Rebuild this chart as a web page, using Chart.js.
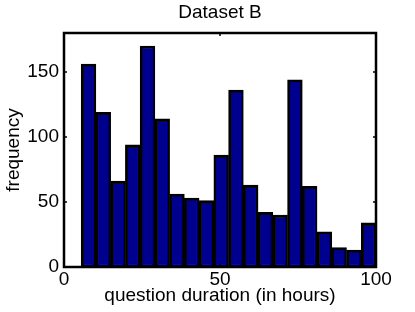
<!DOCTYPE html>
<html>
<head>
<meta charset="utf-8">
<script src="https://cdn.jsdelivr.net/npm/chart.js@4/dist/chart.umd.min.js"></script>
<style>
  html, body { margin: 0; padding: 0; background: #fff; }
  #wrap { width: 415px; height: 312px; }
</style>
</head>
<body>
<div id="wrap"><canvas id="myChart" width="415" height="312"></canvas></div>
<script>
'use strict'

// histogram bins (hours): first edge and bin width, counts per bin
let binStart = 5.5;
let binWidth = 4.725;
let counts = [156, 119, 66, 94, 170, 114, 56, 53, 51, 86, 136, 63, 42, 40, 144, 62, 27, 15, 13, 34];
let xTicks = [0, 50, 100];
let yTicks = [0, 50, 100, 150];
let chartTitle = 'Dataset B';

let points = [];
for (let i = 0; i < counts.length; i++) {
    points.push({ x: binStart + binWidth * (i + 0.5), y: counts[i] });
}

let fontFam = '"Liberation Sans", Arial, Helvetica, sans-serif';
let fontSize = 19;

// box around the plot + small inward ticks on all four sides, like matlab
let boxPlugin = {
    id: 'boxPlugin',
    afterDatasetsDraw(chart) {
        let ctx = chart.ctx;
        let a = chart.chartArea;
        let xs = chart.scales.x;
        let ys = chart.scales.y;
        ctx.save();
        ctx.strokeStyle = '#000';
        ctx.lineWidth = 1.5;
        xTicks.forEach(function (v) {
            let px = xs.getPixelForValue(v);
            ctx.beginPath();
            ctx.moveTo(px, a.bottom); ctx.lineTo(px, a.bottom - 3);
            ctx.moveTo(px, a.top); ctx.lineTo(px, a.top + 3);
            ctx.stroke();
        });
        yTicks.forEach(function (v) {
            let py = ys.getPixelForValue(v);
            ctx.beginPath();
            ctx.moveTo(a.left, py); ctx.lineTo(a.left + 3, py);
            ctx.moveTo(a.right, py); ctx.lineTo(a.right - 3, py);
            ctx.stroke();
        });
        ctx.lineWidth = 2.5;
        ctx.strokeRect(a.left, a.top, a.right - a.left, a.bottom - a.top);
        // title centred over the plot box
        ctx.fillStyle = '#000';
        ctx.font = fontSize + 'px ' + fontFam;
        ctx.textAlign = 'center';
        ctx.textBaseline = 'middle';
        ctx.fillText(chartTitle, (a.left + a.right) / 2, 13);
        ctx.restore();
    }
};

let ctx = document.getElementById('myChart').getContext('2d');
let myChart = new Chart(ctx, {
    type: 'bar',
    data: {
        datasets: [{
            data: points,
            backgroundColor: '#00008f',
            borderColor: '#000',
            borderWidth: 2.5,
            borderSkipped: false,
            barPercentage: 1,
            categoryPercentage: 1
        }]
    },
    options: {
        responsive: false,
        animation: false,
        layout: { padding: { left: 0, right: 39, top: 33, bottom: 0 } },
        plugins: {
            legend: { display: false },
            tooltip: { enabled: false },
            title: { display: false }
        },
        scales: {
            x: {
                type: 'linear',
                min: 0,
                max: 100,
                offset: false,
                afterBuildTicks: function (s) { s.ticks = xTicks.map(v => ({ value: v })); },
                afterFit: function (s) { s.height = 45; },
                grid: { display: false, drawTicks: false, offset: false },
                border: { display: false },
                ticks: {
                    color: '#000',
                    padding: 1,
                    maxRotation: 0,
                    font: { family: fontFam, size: fontSize }
                },
                title: {
                    display: true,
                    text: 'question duration (in hours)',
                    color: '#000',
                    padding: { top: 0, bottom: 5 },
                    font: { family: fontFam, size: fontSize }
                }
            },
            y: {
                min: 0,
                max: 180,
                afterBuildTicks: function (s) { s.ticks = yTicks.map(v => ({ value: v })); },
                afterFit: function (s) { s.width = 64; },
                grid: { display: false, drawTicks: false },
                border: { display: false },
                ticks: {
                    color: '#000',
                    padding: 5,
                    font: { family: fontFam, size: fontSize }
                },
                title: {
                    display: true,
                    text: 'frequency',
                    color: '#000',
                    padding: { top: 2, bottom: 0 },
                    font: { family: fontFam, size: fontSize }
                }
            }
        }
    },
    plugins: [boxPlugin]
});
</script>
</body>
</html>
